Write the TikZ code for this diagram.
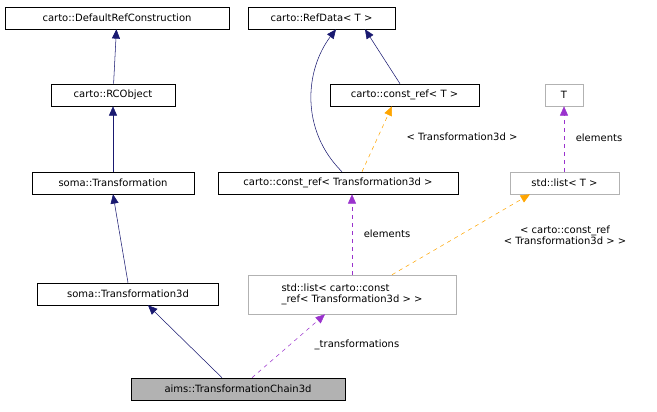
\documentclass[tikz,border=0pt]{standalone}
\usepackage{fontspec}
\setmainfont{DejaVu Sans}
\usetikzlibrary{arrows.meta}
\definecolor{navyline}{RGB}{25,25,112}
\definecolor{orangeline}{RGB}{255,165,0}
\definecolor{purpleline}{RGB}{154,50,205}

\begin{document}
\begin{tikzpicture}[x=0.75pt, y=-0.75pt,
    every node/.style={font=\fontsize{7.5}{8.5}\selectfont, inner sep=2pt, align=center},
    cls/.style={draw=black, rectangle, minimum height=16.5pt},
    tmpl/.style={draw=gray!60, rectangle, minimum height=16.5pt},
    base/.style={draw=navyline, -{Triangle[length=7pt,width=6pt]}},
    use/.style={draw=purpleline, dashed, -{Triangle[length=7pt,width=6pt]}},
    inst/.style={draw=orangeline, dashed, -{Triangle[length=7pt,width=6pt]}},
    lbl/.style={fill=none, inner sep=0pt},
    ]
  \useasboundingbox (0,0) rectangle (657,411);
  % class boxes
  \node[cls, minimum width=168pt] (drc) at (117,18) {carto::DefaultRefConstruction};
  \node[cls, minimum width=93pt] (rco) at (113,95) {carto::RCObject};
  \node[cls, minimum width=121.5pt] (tr) at (113,183) {soma::Transformation};
  \node[cls, minimum width=135.75pt] (tr3) at (128,294) {soma::Transformation3d};
  \node[cls, fill=gray!60, minimum width=160.5pt] (chain) at (238,389) {aims::TransformationChain3d};
  \node[cls, minimum width=110pt] (refd) at (321.5,18) {carto::RefData< T >};
  \node[cls, minimum width=111.75pt] (cref) at (404.5,95) {carto::const\_ref< T >};
  \node[cls, minimum width=180pt] (crt) at (338,183) {carto::const\_ref< Transformation3d >};
  \node[tmpl, minimum width=28.5pt] (t) at (564,95) {T};
  \node[tmpl, minimum width=81.75pt] (lst) at (564.5,183) {std::list< T >};
  \node[tmpl, minimum width=156pt, minimum height=29.25pt, align=left] (lcr) at (352,294.5) {std::list< carto::const\\\_ref< Transformation3d > >};

  % inheritance
  \draw[base] (rco) -- (drc);
  \draw[base] (tr) -- (rco);
  \draw[base] (tr3.north -| 128,283) -- (tr.south -| 113,194);
  \draw[base] (chain.north -| 222,378) -- (tr3.south -| 148,305);
  \draw[base] (crt.north -| 342,172) .. controls (300,130) and (305,70) .. (refd.south -| 336,29);
  \draw[base] (cref.north -| 400,84) -- (refd.south -| 365,29);

  % usage and template instances
  \draw[inst] (crt.north -| 362,172) -- (cref.south -| 392,106);
  \node[lbl] (l1) at (462,137) {< Transformation3d >};
  \draw[use] (lcr.north -| 352,275) -- (crt.south -| 352,194);
  \node[lbl] (l2) at (387,234) {elements};
  \draw[inst] (lcr.north -| 392,275) -- (lst.south -| 530,194);
  \node[lbl] (l3) at (565,235) {< carto::const\_ref\\< Transformation3d > >};
  \draw[use] (lst.north -| 564,172) -- (t);
  \node[lbl] (l4) at (599,138) {elements};
  \draw[use] (chain.north -| 252,378) -- (lcr.south -| 325,314);
  \node[lbl] (l5) at (357,345) {\_transformations};
\end{tikzpicture}
\end{document}
